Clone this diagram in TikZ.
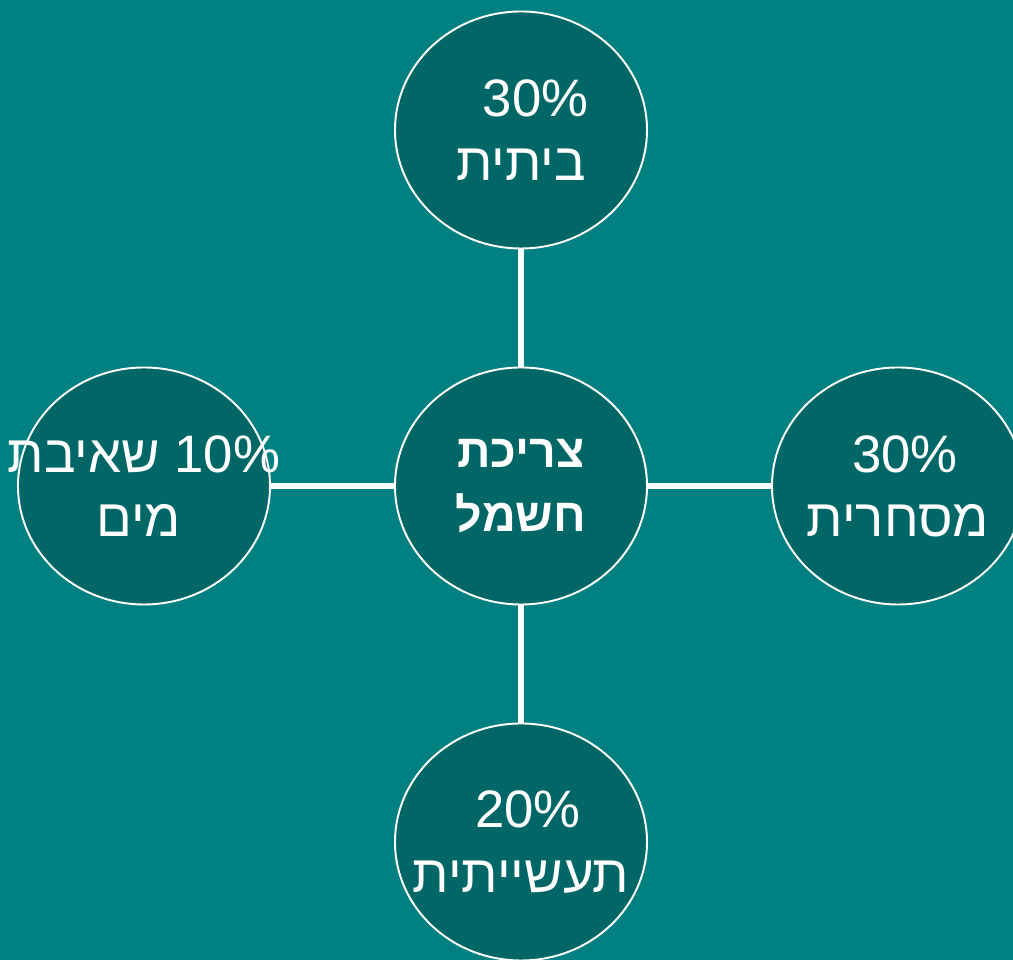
\documentclass[tikz,border=0pt]{standalone}
\usepackage{fontspec}
\setmainfont{Liberation Sans}
\newfontfamily\hebfont[Script=Hebrew]{Liberation Sans}
\TeXXeTstate=1
\usetikzlibrary{shapes.geometric}
\usepackage{xcolor}
\definecolor{bgteal}{rgb}{0.0, 0.5, 0.5}
\definecolor{darkteal}{rgb}{0.0, 0.4, 0.4}
\newcommand{\heb}[1]{\makebox[0pt]{#1}}

\begin{document}
\begin{tikzpicture}[link/.style={line width=2.9pt,draw=white},
    bubble/.style={ellipse,draw=white,line width=1.1pt,fill=darkteal,
        minimum width=5.04cm,minimum height=4.74cm,inner sep=0,
        text=white,align=center,font=\fontsize{30}{36.5}\selectfont\hebfont}]
        
        \fill[bgteal] (0,0) rectangle (20.26,19.2);
        \useasboundingbox (0,0) rectangle (20.26,19.2);
        
        \node[bubble,font=\fontsize{26.5}{36.5}\selectfont\hebfont\bfseries] (use) at (10.42,9.48)
            {\heb{\beginR צריכת\endR}\\\heb{\beginR חשמל\endR}};
        \node[bubble] (home) at (10.42,16.6) {\heb{\hspace*{0.55em}30\%}\\\heb{\beginR ביתית\endR}};
        \node[bubble] (pump) at (2.88,9.48) {\heb{\beginR\beginL 10\%\endL{} שאיבת\endR}\\\heb{\beginR מים\endR\hspace*{0.2em}}};
        \node[bubble] (trade) at (17.96,9.48) {\heb{\hspace*{0.27em}30\%}\\\heb{\beginR מסחרית\endR}};
        \node[bubble] (industry) at (10.42,2.36) {\heb{\hspace*{0.27em}20\%}\\\heb{\beginR תעשייתית\endR}};
        
        \draw[link] (home) -- (use);
        \draw[link] (use) -- (industry);
        \draw[link] (pump) -- (use);
        \draw[link] (use) -- (trade);
        
    \end{tikzpicture}
\end{document}
